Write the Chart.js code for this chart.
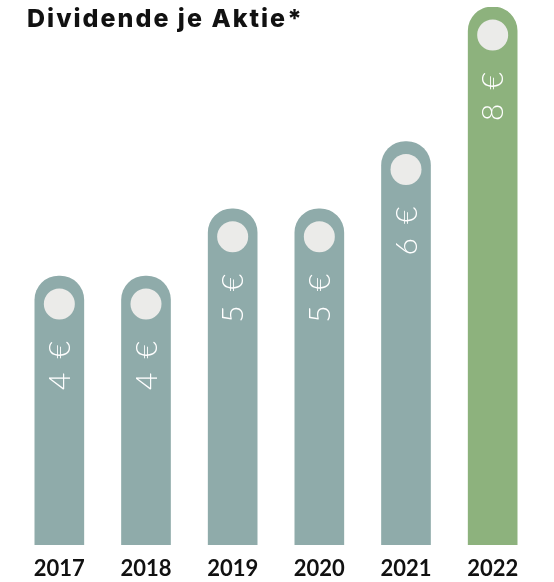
<!DOCTYPE html>
<html lang="de">
<head>
<meta charset="utf-8">
<title>Dividende je Aktie</title>
<script src="https://cdn.jsdelivr.net/npm/chart.js@4.4.1/dist/chart.umd.min.js"></script>
<style>
  html, body { margin: 0; padding: 0; background: #fff; }
  .wrap { position: relative; width: 554px; height: 582px; }
  .title {
    position: absolute; left: 27px; top: 5px;
    font-family: Inter, sans-serif; font-weight: 800; font-size: 25px;
    line-height: 26px; color: #111; letter-spacing: 2px; z-index: 2;
  }
  canvas { position: absolute; left: 0; top: 0; }
</style>
</head>
<body>
<div class="wrap">
  <div class="title">Dividende je Aktie*</div>
  <canvas id="divChart" width="554" height="582"></canvas>
</div>
<script>
// Daten
const years = ['2017', '2018', '2019', '2020', '2021', '2022'];
const dividends = [4, 4, 5, 5, 6, 8];
const currency = '€';

const barGrey = '#8FABAA';
const barGreen = '#8DB27D';
const dotColor = '#EBEBE9';

// Kreis + gedrehter Wert in jedem Balken
const barDecor = {
    id: 'barDecor',
    afterDatasetsDraw(chart) {
        const ctx = chart.ctx;
        const meta = chart.getDatasetMeta(0);
        meta.data.forEach((bar, i) => {
            const top = bar.y;
            ctx.save();
            ctx.fillStyle = dotColor;
            ctx.beginPath();
            ctx.arc(bar.x, top + 28, 15.5, 0, Math.PI * 2);
            ctx.fill();

            ctx.translate(bar.x, top + 114);
            ctx.rotate(-Math.PI / 2);
            ctx.fillStyle = '#fff';
            ctx.font = '300 30px Lato, sans-serif';
            ctx.letterSpacing = '3px';
            ctx.textAlign = 'left';
            ctx.textBaseline = 'middle';
            ctx.fillText(dividends[i] + ' ' + currency, 0, 1);
            ctx.restore();
        });
    }
};

const ctx = document.getElementById('divChart');
new Chart(ctx, {
    type: 'bar',
    data: {
        labels: years,
        datasets: [{
            data: dividends,
            backgroundColor: years.map((y, i) => i === years.length - 1 ? barGreen : barGrey),
            borderRadius: 24,
            borderSkipped: 'bottom',
            barThickness: 49
        }]
    },
    options: {
        responsive: false,
        animation: false,
        layout: {
            padding: { top: 7, left: 16, right: 18, bottom: 0 }
        },
        plugins: {
            legend: { display: false },
            tooltip: { enabled: false }
        },
        scales: {
            y: {
                display: false,
                min: 0,
                max: 8
            },
            x: {
                grid: { display: false, drawTicks: false },
                border: { display: false },
                afterFit(scale) { scale.height = 37; },
                ticks: {
                    color: '#111',
                    padding: 13,
                    font: { family: 'Lato, sans-serif', weight: 'bold', size: 22, lineHeight: 1 }
                }
            }
        }
    },
    plugins: [barDecor]
});
</script>
</body>
</html>
